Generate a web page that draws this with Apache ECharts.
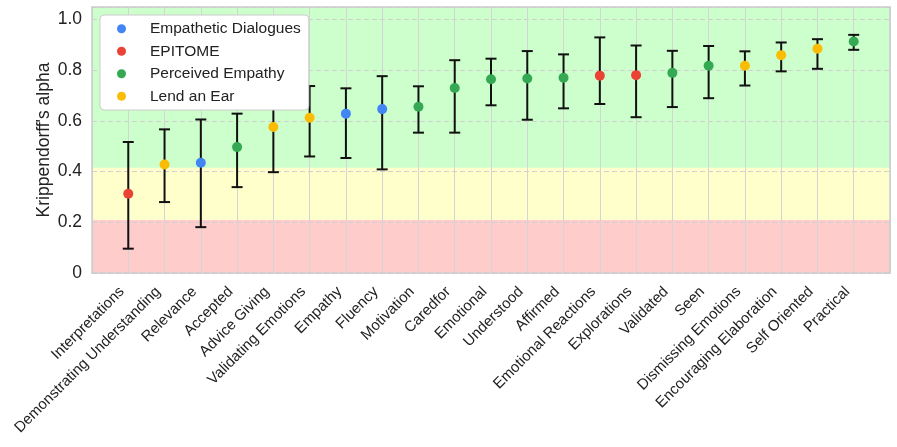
<!DOCTYPE html>
<html>
<head>
<meta charset="utf-8">
<script src="https://cdn.jsdelivr.net/npm/echarts@6/dist/echarts.min.js"></script>
<style>html,body{margin:0;padding:0;background:#fff}#c{width:897px;height:447px}</style>
</head>
<body>
<div id="c"></div>
<script>
const categories = ['Interpretations','Demonstrating Understanding','Relevance','Accepted','Advice Giving','Validating Emotions','Empathy','Fluency','Motivation','Caredfor','Emotional','Understood','Affirmed','Emotional Reactions','Explorations','Validated','Seen','Dismissing Emotions','Encouraging Elaboration','Self Oriented','Practical'];
const alpha = [0.313,0.428,0.435,0.497,0.576,0.613,0.629,0.647,0.656,0.730,0.765,0.768,0.771,0.779,0.781,0.790,0.818,0.818,0.860,0.885,0.914];
const lower = [0.096,0.280,0.181,0.339,0.398,0.460,0.454,0.409,0.554,0.554,0.662,0.605,0.650,0.667,0.615,0.655,0.690,0.740,0.796,0.806,0.881];
const upper = [0.517,0.567,0.606,0.629,0.720,0.738,0.729,0.777,0.737,0.840,0.846,0.876,0.863,0.930,0.898,0.877,0.896,0.875,0.910,0.923,0.940];
const source = ['EPITOME','Lend an Ear','Empathetic Dialogues','Perceived Empathy','Lend an Ear','Lend an Ear','Empathetic Dialogues','Empathetic Dialogues','Perceived Empathy','Perceived Empathy','Perceived Empathy','Perceived Empathy','Perceived Empathy','EPITOME','EPITOME','Perceived Empathy','Perceived Empathy','Lend an Ear','Lend an Ear','Lend an Ear','Perceived Empathy'];
const datasets = ['Empathetic Dialogues','EPITOME','Perceived Empathy','Lend an Ear'];
const datasetColors = ['#4285F4','#EA4335','#34A853','#FBBC05'];
const zoneLower = [0, 0.21, 0.415];
const zoneUpper = [0.21, 0.415, 1.05];
const zoneColors = ['#ffcccc','#ffffcc','#ccffcc'];
const yTicks = ['0','0.2','0.4','0.6','0.8','1.0'];

const X_MIN = -1, X_MAX = categories.length, Y_MAX = 1.05;
const font = 'Liberation Sans, Arial, sans-serif';

const chart = echarts.init(document.getElementById('c'), null, {renderer: 'canvas'});

const series = [];
series.push({
  type: 'custom', name: 'zones', z: 0, silent: true, clip: true,
  data: zoneLower.map((l, i) => [0, l, zoneUpper[i], i]),
  encode: {x: 0, y: 1},
  renderItem: function (params, api) {
    const p0 = api.coord([X_MIN, api.value(2)]);
    const p1 = api.coord([X_MAX, api.value(1)]);
    return {type: 'rect', shape: {x: p0[0], y: p0[1], width: p1[0] - p0[0], height: p1[1] - p0[1]},
      style: {fill: zoneColors[api.value(3)]}};
  }
});
series.push({
  type: 'custom', name: 'errors', z: 2, silent: true,
  data: categories.map((c, i) => [i, lower[i], upper[i]]),
  encode: {x: 0, y: [1, 2]},
  renderItem: function (params, api) {
    const lo = api.coord([api.value(0), api.value(1)]);
    const hi = api.coord([api.value(0), api.value(2)]);
    const w = 5.5;
    const st = {stroke: '#111', lineWidth: 2};
    return {type: 'group', children: [
      {type: 'line', shape: {x1: lo[0], y1: lo[1], x2: hi[0], y2: hi[1]}, style: st},
      {type: 'line', shape: {x1: lo[0] - w, y1: lo[1], x2: lo[0] + w, y2: lo[1]}, style: st},
      {type: 'line', shape: {x1: hi[0] - w, y1: hi[1], x2: hi[0] + w, y2: hi[1]}, style: st}
    ]};
  }
});
datasets.forEach((d, k) => {
  series.push({
    type: 'scatter', name: d, z: 3, symbolSize: 10,
    itemStyle: {color: datasetColors[k], opacity: 1},
    data: categories.map((c, i) => source[i] === d ? [i, alpha[i]] : null).filter(v => v)
  });
});

const option = {
  animation: false,
  textStyle: {fontFamily: font},
  grid: {left: 92, right: 7, top: 7, bottom: 174, containLabel: false},
  legend: {
    data: datasets.map((d, k) => ({name: d, itemStyle: {color: datasetColors[k]}})),
    orient: 'vertical', left: 100, top: 15,
    icon: 'circle', itemWidth: 27, itemHeight: 9, itemGap: 5,
    padding: [5, 8, 5, 17],
    backgroundColor: '#ffffff', borderColor: '#cccccc', borderWidth: 1, borderRadius: 4,
    textStyle: {fontSize: 15.5, color: '#222', fontFamily: font, lineHeight: 17.5, padding: [0, 0, 0, 10]}
  },
  xAxis: [{
    type: 'value', min: X_MIN, max: X_MAX, interval: 1, z: 1,
    axisLine: {show: true, onZero: false, lineStyle: {color: '#cccccc', width: 1.5}},
    axisTick: {show: false},
    splitLine: {show: true, lineStyle: {color: '#d4d4d4', width: 1}},
    axisLabel: {
      rotate: 45, margin: 10, fontSize: 15, color: '#222', fontFamily: font, showMinLabel: true, showMaxLabel: true,
      padding: [0, 9, 0, 0],
      formatter: v => (Number.isInteger(v) && v >= 0 && v < categories.length) ? categories[v] : ''
    }
  }, {
    type: 'value', position: 'top', min: X_MIN, max: X_MAX, z: 1,
    axisLine: {show: true, onZero: false, lineStyle: {color: '#cccccc', width: 1.5}},
    axisTick: {show: false}, axisLabel: {show: false}, splitLine: {show: false}
  }],
  yAxis: [{
    type: 'value', min: 0, max: Y_MAX, interval: 0.2, z: 1,
    name: "Krippendorff's alpha", nameLocation: 'middle', nameGap: 39, nameMoveOverlap: false,
    nameTextStyle: {fontSize: 17.5, color: '#222', fontFamily: font},
    axisLine: {show: true, onZero: false, lineStyle: {color: '#cccccc', width: 1.5}},
    axisTick: {show: false},
    splitLine: {show: true, lineStyle: {color: '#cfcfcf', width: 1, type: [5, 3]}},
    axisLabel: {
      fontSize: 17.5, color: '#222', fontFamily: font, margin: 10,
      formatter: v => { const k = Math.round(v / 0.2); return Math.abs(v - k * 0.2) < 1e-6 ? yTicks[k] : ''; }
    }
  }, {
    type: 'value', position: 'right', min: 0, max: Y_MAX, z: 1,
    axisLine: {show: true, onZero: false, lineStyle: {color: '#cccccc', width: 1.5}},
    axisTick: {show: false}, axisLabel: {show: false}, splitLine: {show: false}
  }],
  series: series
};
chart.setOption(option);
</script>
</body>
</html>
